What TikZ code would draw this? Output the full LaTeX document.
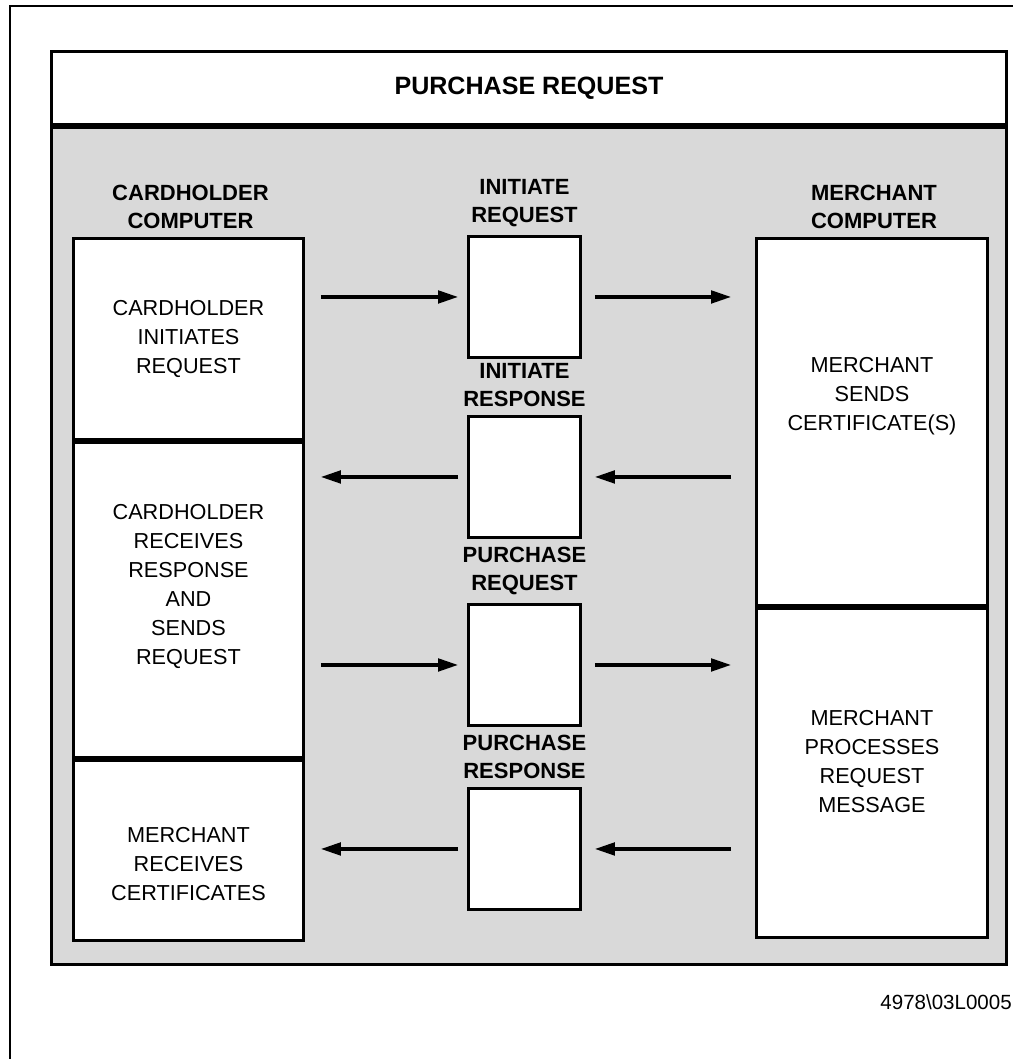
\documentclass[tikz,border=0pt]{standalone}
\usepackage{fontspec}
\setmainfont{Liberation Sans}
\usetikzlibrary{positioning,arrows.meta}
\begin{document}
\begin{tikzpicture}[x=0.75pt,y=-0.75pt]
    \tikzstyle{arrow} = [-{Triangle[length=15pt,width=9.5pt]}, line width=2.3pt]
    \tikzstyle{rec} = [rectangle, draw=black, line width=2.2pt, fill=white,
        inner sep=0pt, minimum width=172.5pt]
    \tikzstyle{msg} = [rectangle, draw=black, line width=2.2pt, fill=white,
        inner sep=0pt, minimum width=84pt, minimum height=90.75pt]
    \tikzstyle{txt} = [align=center, inner sep=0pt,
        font=\fontsize{16.25}{21.75}\selectfont]
    \tikzstyle{head} = [align=center, inner sep=0pt,
        font=\bfseries\fontsize{16.5}{21}\selectfont]

    \useasboundingbox (0,0) rectangle (1013,1059);
    \draw[line width=1.5pt] (10,1059) -- (10,6) -- (1013,6);

    \node(title) [rectangle, draw=black, line width=2.2pt, fill=white,
        minimum width=716.25pt, minimum height=54.75pt,
        font=\bfseries\fontsize{18.8}{22}\selectfont]
        at (50,50) [anchor=north west]
        {PURCHASE REQUEST};
    \node(panel) [rectangle, draw=black, line width=2.2pt, fill=black!15,
        minimum width=716.25pt, minimum height=627.75pt,
        below=0pt of title] {};

    \node(left1) [rec, minimum height=150.75pt]
        at (72,237) [anchor=north west] {};
    \node(left2) [rec, minimum height=236.25pt, below=0pt of left1] {};
    \node(left3) [rec, minimum height=135pt, below=0pt of left2] {};
    \node(right1) [rec, minimum width=173.25pt, minimum height=275.25pt]
        at (755,237) [anchor=north west] {};
    \node(right2) [rec, minimum width=173.25pt, minimum height=246.75pt,
        below=0pt of right1] {};

    \node(initreq) [msg] at (467,235) [anchor=north west] {};
    \node(initres) [msg] at (467,415) [anchor=north west] {};
    \node(purreq) [msg] at (467,603) [anchor=north west] {};
    \node(purres) [msg] at (467,787) [anchor=north west] {};

    \node(cardhead) [head, above=6pt of left1, xshift=1.5pt]
        {CARDHOLDER\\COMPUTER};
    \node(merchhead) [head, above=6pt of right1, xshift=1.5pt]
        {MERCHANT\\COMPUTER};
    \node(initreqlabel) [head, above=6pt of initreq] {INITIATE\\REQUEST};
    \node(initreslabel) [head, above=6pt of initres] {INITIATE\\RESPONSE};
    \node(purreqlabel) [head, above=6pt of purreq] {PURCHASE\\REQUEST};
    \node(purreslabel) [head, above=6pt of purres] {PURCHASE\\RESPONSE};

    \node(tleft1) [txt] at (left1) {CARDHOLDER\\INITIATES\\REQUEST};
    \node(tleft2) [txt, yshift=10pt] at (left2)
        {CARDHOLDER\\RECEIVES\\RESPONSE\\AND\\SENDS\\REQUEST};
    \node(tleft3) [txt, yshift=-10pt] at (left3)
        {MERCHANT\\RECEIVES\\CERTIFICATES};
    \node(tright1) [txt, yshift=19pt] at (right1)
        {MERCHANT\\SENDS\\CERTIFICATE(S)};
    \node(tright2) [txt, yshift=8.5pt] at (right2)
        {MERCHANT\\PROCESSES\\REQUEST\\MESSAGE};

    \node(figid) [anchor=east, inner sep=0pt,
        font=\fontsize{15.4}{18}\selectfont]
        at (1012,1002) {4978\textbackslash 03L0005};

    \draw[arrow, shorten <=12pt, shorten >=6.75pt]
        (initreq.west -| left1.east) -- (initreq.west);
    \draw[arrow, shorten <=9.75pt, shorten >=18pt]
        (initreq.east) -- (initreq.east -| right1.west);
    \draw[arrow, shorten <=18pt, shorten >=9.75pt]
        (initres.east -| right1.west) -- (initres.east);
    \draw[arrow, shorten <=6.75pt, shorten >=12pt]
        (initres.west) -- (initres.west -| left2.east);
    \draw[arrow, shorten <=12pt, shorten >=6.75pt]
        (purreq.west -| left2.east) -- (purreq.west);
    \draw[arrow, shorten <=9.75pt, shorten >=18pt]
        (purreq.east) -- (purreq.east -| right2.west);
    \draw[arrow, shorten <=18pt, shorten >=9.75pt]
        (purres.east -| right2.west) -- (purres.east);
    \draw[arrow, shorten <=6.75pt, shorten >=12pt]
        (purres.west) -- (purres.west -| left3.east);
\end{tikzpicture}
\end{document}
